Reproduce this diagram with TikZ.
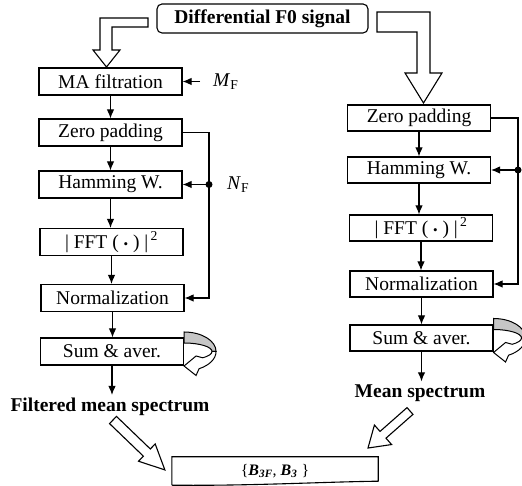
\documentclass[tikz,border=0pt]{standalone}
\usepackage{fontspec}
\setmainfont{Liberation Serif}
\usetikzlibrary{arrows.meta,calc}
\newcommand\fftlabel{|\ FFT\ (\ {\fontsize{13}{13}\selectfont\textbullet}\ )\ |\textsuperscript{\,2}}
\begin{document}
\begin{tikzpicture}[x=1pt,y=1pt,
  every node/.style={font=\fontsize{19.5}{23}\selectfont},
  blk/.style={draw, line width=1.1pt, minimum width=143pt, minimum height=27pt, inner sep=0pt},
  rblk/.style={blk, minimum height=26pt},
  conn/.style={line width=1.1pt, line join=miter, -{Latex[length=9pt,width=7.5pt]}},
  hollow/.style={draw, fill=white, line width=1.1pt, line join=miter},
  lbl/.style={font=\bfseries\fontsize{19.5}{23}\selectfont, inner sep=3pt},
  curl/.pic={
    \filldraw[line width=1pt, fill=gray!45] (0,19.5) arc[start angle=90,end angle=0,x radius=32pt,y radius=19.5pt] -- (28,0) arc[start angle=0,end angle=90,x radius=28pt,y radius=8.5pt] -- cycle;
    \filldraw[line width=1pt, fill=white, line join=miter] (32,0) arc[start angle=0,end angle=-62,x radius=32pt,y radius=19.5pt] -- (12,-24) -- (0,-14.5) -- (12,-4.5) -- (18.7,-6.3) arc[start angle=-48,end angle=0,x radius=28pt,y radius=8.5pt] -- cycle;
  },
]
\useasboundingbox (0,0) rectangle (522,486);

% source
\node[draw, rounded corners=5pt, line width=1.1pt, minimum width=211pt, minimum height=29pt, inner sep=0pt,
      font=\bfseries\fontsize{19.5}{23}\selectfont] (src) at (262.5,467.5) {Differential F0 signal};

% left column
\node[blk] (ma)   at (110.5,404.5) {MA filtration};
\node[blk] (zpL)  at (110.5,353.5) {Zero padding};
\node[blk] (hwL)  at (110.5,301.5) {Hamming W.};
\node[blk] (fftL) at (111.5,244)   {\fftlabel};
\node[blk] (nmL)  at (112.5,188)   {Normalization};
\node[blk] (saL)  at (112,134.5)   {Sum \& aver.};
\node[lbl] (fms)  at (110,79)      {Filtered mean spectrum};

% right column
\node[rblk] (zpR)  at (419,368)   {Zero padding};
\node[rblk] (hwR)  at (419,316)   {Hamming W.};
\node[rblk] (fftR) at (421,258)   {\fftlabel};
\node[rblk] (nmR)  at (421.5,202) {Normalization};
\node[rblk] (saR)  at (421.5,148) {Sum \& aver.};
\node[lbl]  (ms)   at (420,93)    {Mean spectrum};

% parameters
\coordinate (mfa) at (200,404.5);
\node[anchor=west, inner sep=0pt] (mf) at (213,404.5) {\textit{M}\textsubscript{F}};
\node[anchor=west, inner sep=0pt] (nf) at (227,301.5) {\textit{N}\textsubscript{F}};
\draw[conn] (mfa) -- (ma.east);

% left chain
\draw[conn] (ma.south)   -- (ma.south |- zpL.north);
\draw[conn] (zpL.south)  -- (zpL.south |- hwL.north);
\draw[conn] (hwL.south)  -- (hwL.south |- fftL.north);
\draw[conn] (fftL.south) -- (fftL.south |- nmL.north);
\draw[conn] (nmL.south)  -- (nmL.south |- saL.north);
\draw[conn] (saL.south)  -- (saL.south |- fms.north);

% right chain
\draw[conn] (zpR.south)  -- (zpR.south |- hwR.north);
\draw[conn] (hwR.south)  -- (hwR.south |- fftR.north);
\draw[conn] (fftR.south) -- (fftR.south |- nmR.north);
\draw[conn] (nmR.south)  -- (nmR.south |- saR.north);
\draw[conn] (saR.south)  -- (saR.south |- ms.north);

% feedback lines
\coordinate (fbL) at (209,301.5);
\draw[conn] (zpL.east) -| (fbL |- nmL.east) -- (nmL.east);
\fill (fbL) circle (3.5);
\draw[conn] (fbL) -- (hwL.east);

\coordinate (fbR) at (518,316);
\draw[conn] (zpR.east) -| (fbR |- nmR.east) -- (nmR.east);
\fill (fbR) circle (3.5);
\draw[conn] (fbR) -- (hwR.east);

% curl arrows
\pic at (saL.east) {curl};
\pic at (saR.east) {curl};

% top hollow arrows
\draw[hollow] (148,468) -- (100,468) -- (100,436) -- (93,436) -- (106.5,419) -- (120,436) -- (112,436) -- (112,459) -- (148,459) -- cycle;
\draw[hollow] (377,474) -- (430,474) -- (430,413) -- (442,413) -- (423.5,383) -- (405,413) -- (417,413) -- (417,454) -- (377,454) -- cycle;

% diagonal hollow arrows
\begin{scope}[shift={(113,66)}, rotate=-43.9]
\draw[hollow] (0,-5) -- (47,-5) -- (47,-12) -- (72,0) -- (47,12) -- (47,5) -- (0,5) -- cycle;
\end{scope}
\begin{scope}[shift={(410,75)}, rotate=221.4]
\draw[hollow] (0,-4.5) -- (36,-4.5) -- (36,-13) -- (56,0) -- (36,13) -- (36,4.5) -- (0,4.5) -- cycle;
\end{scope}

% result box
\node[minimum width=206pt, minimum height=28pt, inner sep=0pt, font=\fontsize{16}{19}\selectfont] (res) at (275,15)
  {\{\textbf{\textit{B}}\textsubscript{\textbf{\textit{3F}}}, \textbf{\textit{B}}\textsubscript{\textbf{\textit{3}}} \}};
\draw[line width=1.1pt, line join=miter] (res.south west) -- (res.north west) -- (res.north east) -- ($(res.south east)+(0,4)$)
  .. controls (320,4) and (250,0) .. (res.south west);
\end{tikzpicture}
\end{document}
